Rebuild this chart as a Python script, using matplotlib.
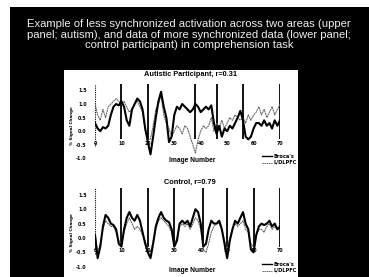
import matplotlib
matplotlib.use("Agg")
import matplotlib.pyplot as plt
import numpy as np

# ---------------- data ----------------
title_lines = ["Example of less synchronized activation across two areas (upper",
               "panel; autism), and data of more synchronized data (lower panel;",
               "control participant) in comprehension task"]

image_number = list(range(0, 71))
x_ticks = [0, 10, 20, 30, 40, 50, 60, 70]
y_ticks = [1.5, 1.0, 0.5, 0.0, -0.5, -1.0]
y_tick_labels = ["1.5", "1.0", "0.5", "0.0", "-0.5", "-1.0"]

autism_title = "Autistic Participant, r=0.31"
control_title = "Control, r=0.79"
series_names = ["Broca's", "L/DLPFC"]

autism_broca = [0.3, 0.1, 0.0, 0.15, 0.1, 0.2, 0.6, 0.9, 1.0, 0.95,
                1.1, 0.9, 0.4, 0.2, 0.8, 1.0, 1.2, 1.1, 0.8, 0.1,
                -0.4, -0.85, -0.2, 0.5, 1.1, 1.45, 0.9, 0.5, -0.4, -0.2,
                0.6, 0.9, 0.8, 1.0, 0.9, 0.8, 0.7, 0.8, 1.0, 0.9,
                0.7, 0.8, 0.9, 0.8, 0.95, 0.3, -0.1, 0.2, -0.2, 0.1,
                0.0, 0.2, 0.1, 0.3, 0.5, 0.75, 0.4, -0.2, -0.3, -0.2,
                0.1, 0.3, 0.3, 0.2, 0.4, 0.2, 0.3, 0.1, 0.4, 0.2, 0.4]
autism_dlpfc = [1.0, 0.6, 0.4, 0.8, 0.5, 0.9, 1.0, 1.1, 1.2, 1.1,
                1.0, 1.1, 0.9, 0.7, 0.8, 1.0, 1.1, 0.9, 0.7, 0.0,
                -0.3, -0.3, 0.2, 0.8, 1.0, 1.3, 0.6, 0.3, 0.1, -0.2,
                0.0, 0.2, 0.1, -0.1, 0.2, 0.1, -0.2, -0.5, -0.8, -0.3,
                0.0, 0.2, 0.1, 0.2, 0.5, 0.0, 0.3, 0.1, 0.4, 0.1,
                0.3, 0.5, 0.4, 0.6, 0.5, 0.4, 0.5, 0.3, 0.6, 0.4,
                0.6, 0.7, 0.9, 0.6, 0.8, 0.5, 0.7, 0.9, 0.6, 0.8, 1.0]
control_broca = [0.1, -0.7, -0.3, 0.4, 0.8, 0.7, 0.5, 0.45, 0.3, -0.2,
                 -0.3, 0.3, 0.7, 0.9, 0.7, 0.6, 0.8, 0.6, 0.2, -0.2,
                 -0.5, -0.7, -0.2, 0.4, 0.7, 0.9, 0.7, 0.6, 0.55, 0.3,
                 -0.3, -0.1, 0.5, 0.6, 0.5, 0.6, 0.4, 0.7, 1.0, 0.9,
                 0.5, -0.3, -0.2, 0.3, 0.6, 0.5, 0.5, 0.6, 0.3, -0.2,
                 -0.7, -0.1, 0.3, 0.6, 0.5, 0.7, 0.9, 0.5, 0.3, -0.4,
                 -0.5, 0.1, 0.4, 0.5, 0.45, 0.5, 0.6, 0.4, 0.5, 0.3, 0.4]
control_dlpfc = [0.2, -0.5, -0.2, 0.3, 0.6, 0.5, 0.4, 0.4, 0.2, -0.1,
                 -0.2, 0.2, 0.5, 0.7, 0.5, 0.3, 0.4, 0.3, 0.1, -0.1,
                 -0.4, -0.5, -0.1, 0.3, 0.6, 0.7, 0.6, 0.5, 0.4, 0.2,
                 -0.2, 0.0, 0.4, 0.5, 0.4, 0.5, 0.3, 0.5, 0.7, 0.6,
                 0.3, -0.4, -0.5, -0.2, 0.2, 0.4, 0.5, 0.5, 0.3, -0.1,
                 -0.4, 0.0, 0.3, 0.5, 0.4, 0.5, 0.6, 0.3, 0.2, -0.2,
                 -0.3, 0.1, 0.3, 0.3, 0.2, 0.4, 0.5, 0.3, 0.4, 0.3, 0.4]

autism_events = [10, 20, 38, 46, 56, 70]
control_events = [10, 20, 30, 41, 50, 60, 70]

# ---------------- figure ----------------
W, H = 369, 277
fig = plt.figure(figsize=(W / 100, H / 100), dpi=100)
fig.patch.set_facecolor("white")

def fr(x0, y0, x1, y1):
    """pixel box (top-left origin) -> figure fraction rect"""
    return [x0 / W, 1 - y1 / H, (x1 - x0) / W, (y1 - y0) / H]

# black slide background
bg = fig.add_axes(fr(10, 7, 369, 277))
bg.set_facecolor("black")
bg.set_xticks([]); bg.set_yticks([])
for s in bg.spines.values():
    s.set_visible(False)

# white chart panel
panel = fig.add_axes(fr(64, 70, 298, 277))
panel.set_facecolor("white")
panel.set_xticks([]); panel.set_yticks([])
for s in panel.spines.values():
    s.set_visible(False)

for i, line in enumerate(title_lines):
    fig.text(189 / W, 1 - (24 + i * 10.5) / H, line, color="#eeeeee",
             ha="center", va="center", fontsize=8.1, family="Liberation Sans")

def draw(px_zero, scale, title, broca, dlpfc, events, title_y, xlabel_y, leg_y):
    # axes: x 0..70 -> 95..280 px ; y via scale (px per unit)
    ymin, ymax = -1.1, 1.8
    y_top = px_zero - ymax * scale
    y_bot = px_zero - ymin * scale
    ax = fig.add_axes(fr(95, y_top, 280, y_bot))
    ax.set_xlim(0, 70)
    ax.set_ylim(ymin, ymax)
    ax.patch.set_visible(False)
    for s in ax.spines.values():
        s.set_visible(False)
    ax.vlines(events, -0.3, 1.75, color="black", lw=1.3)
    ax.vlines([0], -0.55, 1.75, color="black", lw=0.8, linestyles=(0, (1, 1)))
    ax.plot(image_number, dlpfc, color="#555555", lw=0.7, ls=(0, (2, 0.6)))
    ax.plot(image_number, broca, color="black", lw=1.5)
    ax.set_yticks(y_ticks)
    ax.set_yticklabels(y_tick_labels, fontsize=3.4, fontweight="bold")
    ax.tick_params(axis="y", length=0, pad=6)
    ax.set_xticks([])
    for xv in x_ticks:
        ax.text(xv, -0.45, str(xv), fontsize=3.4, fontweight="bold",
                ha="center", va="center")
    fig.text(190 / W, 1 - title_y / H, title, ha="center", va="center",
             fontsize=5.3, fontweight="bold", family="Liberation Sans")
    fig.text(192 / W, 1 - xlabel_y / H, "Image Number", ha="center", va="center",
             fontsize=4.8, fontweight="bold", family="Liberation Sans")
    fig.text(72 / W, 1 - (px_zero - 0.2 * scale) / H, "% Signal Change", rotation=90,
             ha="center", va="center", fontsize=3.0, fontweight="bold")
    # legend
    for k, (name, ls, lw, col) in enumerate([(series_names[0], "-", 1.0, "black"),
                                             (series_names[1], (0, (2, 0.6)), 0.6, "#555555")]):
        yy = 1 - (leg_y + k * 6.5) / H
        fig.add_artist(plt.Line2D([262 / W, 272 / W], [yy, yy], color=col, lw=lw, ls=ls))
        fig.text(274 / W, yy, name, fontsize=3.6, fontweight="bold", va="center", ha="left")
    return ax

draw(131.2, 27.2, autism_title, autism_broca, autism_dlpfc, autism_events, 74, 160, 156)
draw(238.0, 28.8, control_title, control_broca, control_dlpfc, control_events, 182, 270, 264)

fig.savefig("out.png", dpi=100, facecolor=fig.get_facecolor())
